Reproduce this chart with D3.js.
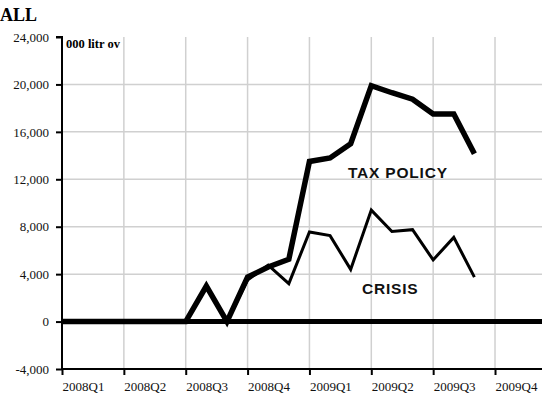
<!DOCTYPE html>
<html><head><meta charset="utf-8">
<script src="https://cdn.jsdelivr.net/npm/d3@7"></script>
<style>body{margin:0;background:#fff}svg{display:block}</style>
</head><body>
<script>
const months = d3.range(0, 21);
const taxPolicy = [0,0,0,0,0,0,0,3000,0,3750,4600,5250,13500,13800,15000,19900,19300,18750,17500,17500,14150];
const crisis    = [0,0,0,0,0,0,0,3000,0,3500,4750,3200,7550,7250,4400,9400,7600,7750,5200,7100,3750];
const quarterLabels = ["2008Q1","2008Q2","2008Q3","2008Q4","2009Q1","2009Q2","2009Q3","2009Q4"];
const yTicks = [-4000,0,4000,8000,12000,16000,20000,24000];

const W = 542, H = 400;
const svg = d3.select("body").append("svg").attr("width", W).attr("height", H);
const x = d3.scaleLinear().domain([0, 24]).range([62, 62 + 24 * 20.62]);
const y = d3.scaleLinear().domain([-4000, 24000]).range([369, 37]);
const serif = "'Liberation Serif','Times New Roman',serif";
const sans = "'Liberation Sans',Arial,sans-serif";

// grid
svg.append("g").selectAll("line").data(quarterLabels.slice(1)).join("line")
  .attr("x1", (d,i) => x((i+1)*3)).attr("x2", (d,i) => x((i+1)*3))
  .attr("y1", y(24000)).attr("y2", y(-4000))
  .attr("stroke", "#d0d0d0").attr("stroke-width", 1.5);
svg.append("g").selectAll("line").data(yTicks.filter(v => v > 0 && v < 24000)).join("line")
  .attr("x1", x(0)).attr("x2", W).attr("y1", d => y(d)).attr("y2", d => y(d))
  .attr("stroke", "#d0d0d0").attr("stroke-width", 1.5);

// y axis
const fmt = d3.format(",");
const yAxis = svg.append("g").attr("transform", `translate(${x(0)},0)`)
  .call(d3.axisLeft(y).tickValues(yTicks).tickSize(6).tickPadding(7).tickFormat(d => fmt(d).replace("\u2212", "-")));
yAxis.select(".domain").attr("stroke", "#000").attr("stroke-width", 2).attr("d", `M-6,${y(24000)}H0V${y(-4000)}`);
yAxis.selectAll(".tick line").attr("stroke", "#000").attr("stroke-width", 2);
yAxis.selectAll("text").attr("font-family", serif).attr("font-size", 13).attr("fill", "#111");

// x axis
const xAxis = svg.append("g").attr("transform", `translate(0,${y(-4000)})`)
  .call(d3.axisBottom(x).tickValues(d3.range(0, 24, 3)).tickSize(6).tickFormat((d,i) => quarterLabels[i]));
xAxis.select(".domain").attr("stroke", "#000").attr("stroke-width", 2).attr("d", `M${x(0)},0H${W}`);
xAxis.selectAll(".tick line").attr("stroke", "#000").attr("stroke-width", 2);
xAxis.selectAll("text").attr("font-family", serif).attr("font-size", 13).attr("fill", "#111")
  .attr("text-anchor", "start").attr("dx", 0).attr("y", 13);

// zero line
svg.append("line").attr("x1", x(0)).attr("x2", W).attr("y1", y(0)).attr("y2", y(0))
  .attr("stroke", "#000").attr("stroke-width", 5);

const line = d3.line().x((d,i) => x(months[i])).y(d => y(d));
svg.append("path").datum(crisis).attr("d", line).attr("fill", "none")
  .attr("stroke", "#000").attr("stroke-width", 3).attr("stroke-linejoin", "miter");
svg.append("path").datum(taxPolicy).attr("d", line).attr("fill", "none")
  .attr("stroke", "#000").attr("stroke-width", 5.5).attr("stroke-linejoin", "miter");

// labels
svg.append("text").attr("x", 348).attr("y", 178).text("TAX POLICY")
  .attr("font-family", sans).attr("font-weight", "bold").attr("font-size", 15.5)
  .attr("letter-spacing", 0.8).attr("fill", "#111");
svg.append("text").attr("x", 362).attr("y", 294).text("CRISIS")
  .attr("font-family", sans).attr("font-weight", "bold").attr("font-size", 15.5)
  .attr("letter-spacing", 0.8).attr("fill", "#111");
svg.append("text").attr("x", 66).attr("y", 48).text("000 litr ov")
  .attr("font-family", serif).attr("font-weight", "bold").attr("font-size", 12.5).attr("fill", "#000");
svg.append("text").attr("x", 0).attr("y", 21).text("ALL")
  .attr("font-family", serif).attr("font-weight", "bold").attr("font-size", 18).attr("fill", "#000");
</script>
</body></html>
